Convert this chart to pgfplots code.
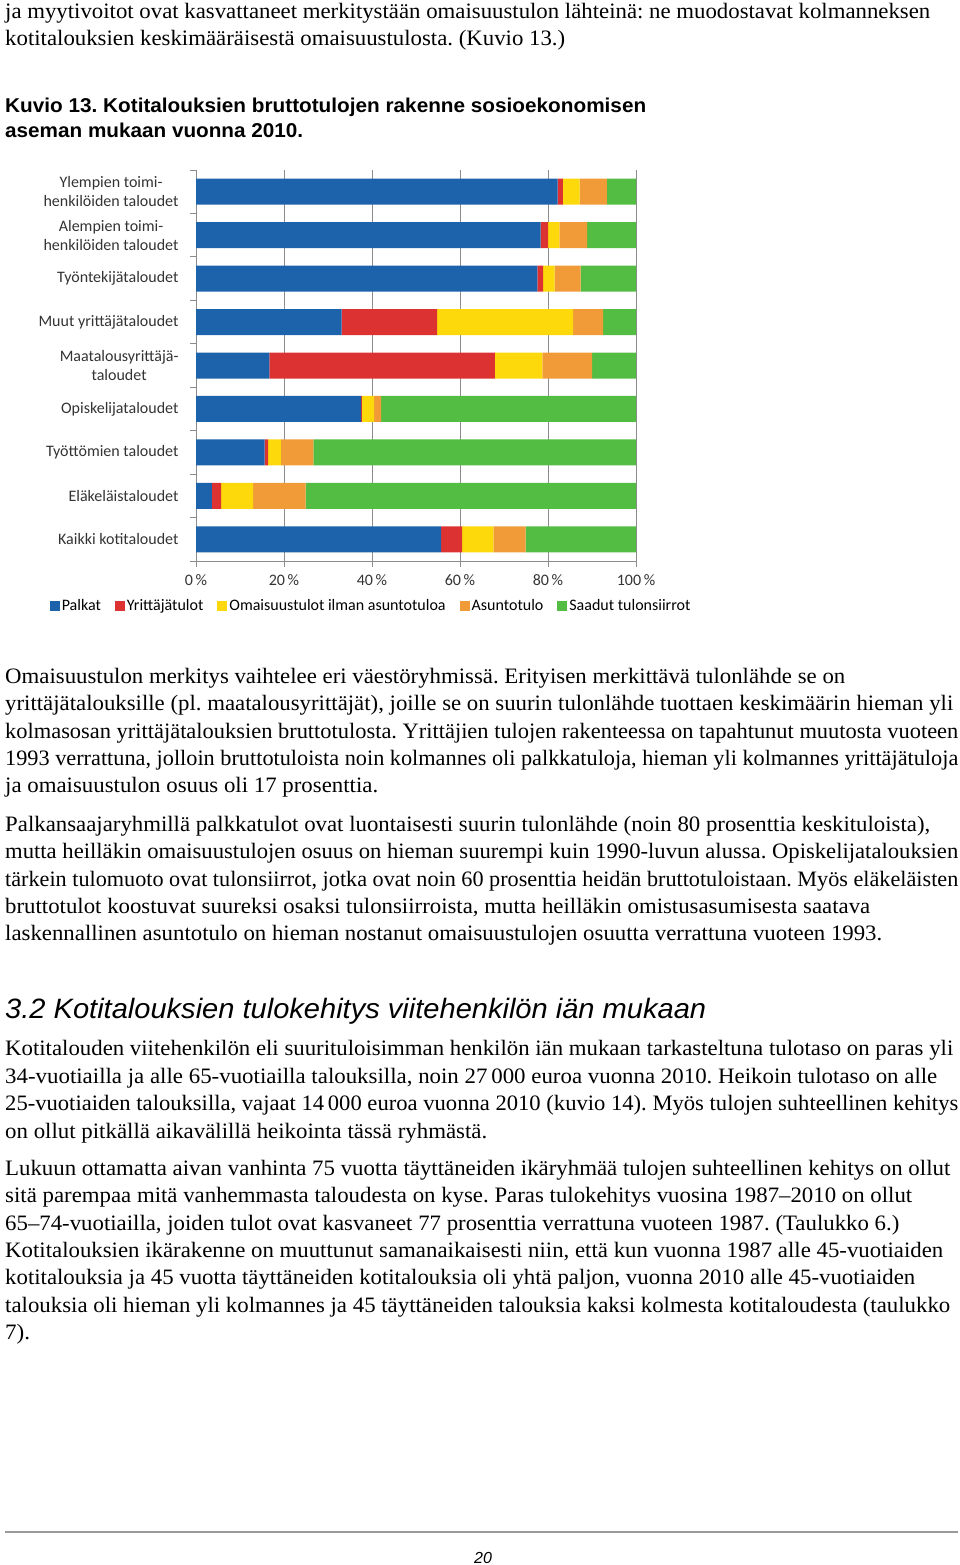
\documentclass[border=0pt]{standalone}
\usepackage{pgfplots}
\pgfplotsset{compat=1.18}
\usepackage{pgfplotstable}
\usepackage{graphicx}
\usepackage{fontspec}
\setmainfont{Liberation Serif}
\newfontfamily\chartfont{Carlito}
\newfontfamily\arialfont{Liberation Sans}
\frenchspacing

\definecolor{cPalkat}{RGB}{29,99,172}
\definecolor{cYrit}{RGB}{220,50,50}
\definecolor{cOmai}{RGB}{253,216,10}
\definecolor{cAsunto}{RGB}{241,155,56}
\definecolor{cSaadut}{RGB}{82,189,66}
\definecolor{cGrid}{RGB}{140,140,140}

\pgfplotstableread{
y palkat yrit omai asunto saadut
9 82.2 1.2 3.8 6.2 6.6
8 78.3 1.7 2.6 6.3 11.1
7 77.6 1.3 2.6 5.9 12.6
6 33.1 21.7 30.9 6.8 7.5
5 16.7 51.2 10.8 11.3 10.0
4 37.5 0.2 2.8 1.6 57.9
3 15.6 0.8 2.9 7.4 73.3
2 3.6 2.1 7.3 11.9 75.1
1 55.7 4.8 7.1 7.3 25.1
}\datatable

\newcommand\bodyline[3]{\node[anchor=base west,inner sep=0pt] at (5pt,-#1pt) {\fontsize{22}{27}\selectfont\frenchspacing\resizebox{#2pt}{\height}{#3}};}

\begin{document}
\begin{tikzpicture}
\path[use as bounding box] (0pt,0pt) rectangle (960pt,-1565pt);

\bodyline{18.5}{925}{ja myytivoitot ovat kasvattaneet merkitystään omaisuustulon lähteinä: ne muodostavat kolmanneksen}
\bodyline{46}{560}{kotitalouksien keskimääräisestä omaisuustulosta. (Kuvio 13.)}

\node[anchor=base west,inner sep=0pt] at (5pt,-113pt) {\arialfont\bfseries\fontsize{20}{24}\selectfont\frenchspacing\resizebox{641pt}{\height}{Kuvio 13. Kotitalouksien bruttotulojen rakenne sosioekonomisen}};
\node[anchor=base west,inner sep=0pt] at (5pt,-138pt) {\arialfont\bfseries\fontsize{20}{24}\selectfont\resizebox{298pt}{\height}{aseman mukaan vuonna 2010.}};

\bodyline{683.5}{840}{Omaisuustulon merkitys vaihtelee eri väestöryhmissä. Erityisen merkittävä tulonlähde se on}
\bodyline{710.8}{948}{yrittäjätalouksille (pl. maatalousyrittäjät), joille se on suurin tulonlähde tuottaen keskimäärin hieman yli}
\bodyline{738.1}{953}{kolmasosan yrittäjätalouksien bruttotulosta. Yrittäjien tulojen rakenteessa on tapahtunut muutosta vuoteen}
\bodyline{765.4}{953}{1993 verrattuna, jolloin bruttotuloista noin kolmannes oli palkkatuloja, hieman yli kolmannes yrittäjätuloja}
\bodyline{792.7}{373}{ja omaisuustulon osuus oli 17 prosenttia.}

\bodyline{831.5}{925}{Palkansaajaryhmillä palkkatulot ovat luontaisesti suurin tulonlähde (noin 80 prosenttia keskituloista),}
\bodyline{858.8}{953}{mutta heilläkin omaisuustulojen osuus on hieman suurempi kuin 1990-luvun alussa. Opiskelijatalouksien}
\bodyline{886.1}{953}{tärkein tulomuoto ovat tulonsiirrot, jotka ovat noin 60 prosenttia heidän bruttotuloistaan. Myös eläkeläisten}
\bodyline{913.4}{865}{bruttotulot koostuvat suureksi osaksi tulonsiirroista, mutta heilläkin omistusasumisesta saatava}
\bodyline{940.7}{877}{laskennallinen asuntotulo on hieman nostanut omaisuustulojen osuutta verrattuna vuoteen 1993.}

\node[anchor=base west,inner sep=0pt] at (5pt,-1018pt) {\arialfont\itshape\fontsize{28}{32}\selectfont\resizebox{701pt}{\height}{3.2 Kotitalouksien tulokehitys viitehenkilön iän mukaan}};

\bodyline{1055.5}{948}{Kotitalouden viitehenkilön eli suurituloisimman henkilön iän mukaan tarkasteltuna tulotaso on paras yli}
\bodyline{1083}{932}{34-vuotiailla ja alle 65-vuotiailla talouksilla, noin 27\,000 euroa vuonna 2010. Heikoin tulotaso on alle}
\bodyline{1110.5}{953}{25-vuotiaiden talouksilla, vajaat 14\,000 euroa vuonna 2010 (kuvio 14). Myös tulojen suhteellinen kehitys}
\bodyline{1138}{482}{on ollut pitkällä aikavälillä heikointa tässä ryhmästä.}

\bodyline{1175.5}{945}{Lukuun ottamatta aivan vanhinta 75 vuotta täyttäneiden ikäryhmää tulojen suhteellinen kehitys on ollut}
\bodyline{1202.8}{907}{sitä parempaa mitä vanhemmasta taloudesta on kyse. Paras tulokehitys vuosina 1987–2010 on ollut}
\bodyline{1230.1}{894}{65–74-vuotiailla, joiden tulot ovat kasvaneet 77 prosenttia verrattuna vuoteen 1987. (Taulukko 6.)}
\bodyline{1257.4}{938}{Kotitalouksien ikärakenne on muuttunut samanaikaisesti niin, että kun vuonna 1987 alle 45-vuotiaiden}
\bodyline{1284.7}{910}{kotitalouksia ja 45 vuotta täyttäneiden kotitalouksia oli yhtä paljon, vuonna 2010 alle 45-vuotiaiden}
\bodyline{1312}{945}{talouksia oli hieman yli kolmannes ja 45 täyttäneiden talouksia kaksi kolmesta kotitaloudesta (taulukko}
\bodyline{1339.3}{25}{7).}

\draw[line width=2pt, black!40] (5pt,-1532pt) -- (958pt,-1532pt);
\node[anchor=base,inner sep=0pt] at (483pt,-1563pt) {\arialfont\itshape\fontsize{16}{18}\selectfont 20};

\begin{axis}[
  at={(196pt,-561pt)}, anchor=south west,
  scale only axis, width=440pt, height=391pt,
  xbar stacked, bar width=26pt,
  xmin=0, xmax=100, ymin=0.5, ymax=9.5,
  axis lines*=left,
  axis line style={draw=cGrid, line width=1pt},
  xmajorgrids,
  major grid style={draw=cGrid, line width=1pt},
  tick align=outside,
  major tick length=6pt, minor tick length=6pt,
  tick style={draw=cGrid, line width=1pt},
  major y tick style={draw=none},
  xtick={0,20,40,60,80,100},
  xticklabels={{0\,\%},{20\,\%},{40\,\%},{60\,\%},{80\,\%},{100\,\%}},
  xticklabel style={font=\chartfont\fontsize{16}{18}\selectfont, color=black!80, yshift=-4pt},
  ytick={1,2,3,4,5,6,7,8,9},
  minor ytick={0.5,1.5,2.5,3.5,4.5,5.5,6.5,7.5,8.5,9.5},
  yticklabels={Kaikki kotitaloudet, Eläkeläistaloudet, Työttömien taloudet, Opiskelijataloudet, {Maatalousyrittäjä-\\taloudet}, Muut yrittäjätaloudet, Työntekijätaloudet, {Alempien toimi-\\henkilöiden taloudet}, {Ylempien toimi-\\henkilöiden taloudet}},
  yticklabel style={align=center, font=\chartfont\fontsize{16}{19}\selectfont, color=black!80, xshift=-8pt},
  legend columns=5,
  legend style={at={(0.398,-0.115)}, anchor=center, draw=none, fill=none,
    font=\chartfont\fontsize{16}{18}\selectfont,
    /tikz/every even column/.append style={column sep=12pt},
    inner sep=0pt},
  legend image code/.code={\fill[#1] (0pt,-5pt) rectangle (10pt,5pt);},
]
\addplot[fill=cPalkat, draw=none] table[x=palkat, y=y] {\datatable};
\addplot[fill=cYrit, draw=none] table[x=yrit, y=y] {\datatable};
\addplot[fill=cOmai, draw=none] table[x=omai, y=y] {\datatable};
\addplot[fill=cAsunto, draw=none] table[x=asunto, y=y] {\datatable};
\addplot[fill=cSaadut, draw=none] table[x=saadut, y=y] {\datatable};
\legend{Palkat, Yrittäjätulot, Omaisuustulot ilman asuntotuloa, Asuntotulo, Saadut tulonsiirrot}
\end{axis}
\end{tikzpicture}
\end{document}
